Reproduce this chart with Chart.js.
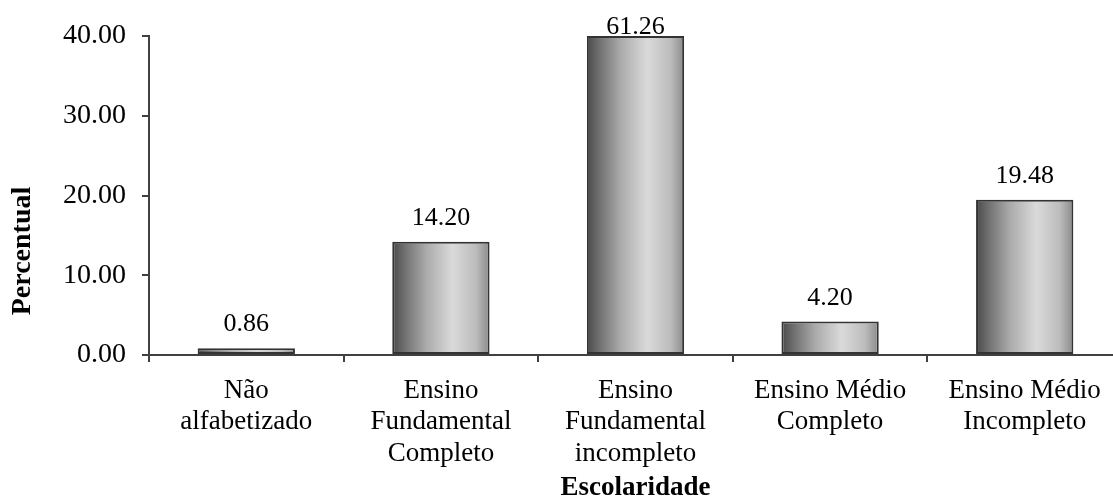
<!DOCTYPE html>
<html lang="pt">
<head>
    <meta charset="UTF-8">
    <title>Escolaridade</title>
    <style>
        html, body {
            margin: 0;
            padding: 0;
            background: #fff;
            overflow: hidden;
        }
        #wrap {
            position: absolute;
            left: 0;
            top: 0;
            width: 1122px;
            height: 503px;
        }
    </style>
    <script src="https://cdn.jsdelivr.net/npm/chart.js"></script>
</head>
<body>
    <div id="wrap"><canvas id="grafico"></canvas></div>

    <script>
        // dados
        const categorias = [
            ['Não', 'alfabetizado'],
            ['Ensino', 'Fundamental', 'Completo'],
            ['Ensino', 'Fundamental', 'incompleto'],
            ['Ensino Médio', 'Completo'],
            ['Ensino Médio', 'Incompleto']
        ];
        const percentual = [0.86, 14.20, 61.26, 4.20, 19.48];
        const yTicks = [0, 10, 20, 30, 40];

        const yMax = yTicks[yTicks.length - 1];
        const fonte = "'Liberation Serif', 'Times New Roman', serif";
        const corEixo = '#404040';

        // barras acima do eixo ficam cortadas no topo, como no Excel
        const barras = percentual.map(v => Math.min(v, yMax));

        function gradiente(ctx) {
            const chart = ctx.chart;
            const x = chart.scales.x;
            if (!x || !chart.chartArea) return '#aaa';
            const c = x.getPixelForValue(ctx.dataIndex);
            const meia = (x.width / categorias.length) * 0.25;
            const g = chart.ctx.createLinearGradient(c - meia, 0, c + meia, 0);
            g.addColorStop(0, '#4a4a4a');
            g.addColorStop(0.12, '#6e6e6e');
            g.addColorStop(0.35, '#ababab');
            g.addColorStop(0.62, '#dadada');
            g.addColorStop(0.86, '#bcbcbc');
            g.addColorStop(1, '#8a8a8a');
            return g;
        }

        const rotulos = {
            id: 'rotulos',
            afterDatasetsDraw(chart) {
                const ctx = chart.ctx;
                const meta = chart.getDatasetMeta(0);
                ctx.save();
                ctx.font = '26px ' + fonte;
                ctx.fillStyle = '#000';
                ctx.textAlign = 'center';
                ctx.textBaseline = 'alphabetic';
                meta.data.forEach((bar, i) => {
                    const y = Math.max(bar.y - 17, chart.chartArea.top - 2);
                    ctx.fillText(percentual[i].toFixed(2), bar.x, y);
                });
                // titulo do eixo y
                ctx.font = 'bold 28px ' + fonte;
                ctx.translate(23, 251);
                ctx.rotate(-Math.PI / 2);
                ctx.textBaseline = 'middle';
                ctx.fillText('Percentual', 0, 0);
                ctx.restore();
            }
        };

        new Chart(document.getElementById('grafico'), {
            type: 'bar',
            data: {
                labels: categorias,
                datasets: [{
                    data: barras,
                    backgroundColor: gradiente,
                    borderColor: '#333',
                    borderWidth: 2,
                    borderSkipped: false,
                    barPercentage: 0.5,
                    categoryPercentage: 1
                }]
            },
            options: {
                responsive: true,
                maintainAspectRatio: false,
                animation: false,
                layout: { padding: { top: 36, left: 0, right: 0, bottom: 0 } },
                plugins: {
                    legend: { display: false },
                    tooltip: { enabled: false }
                },
                scales: {
                    x: {
                        offset: true,
                        grid: {
                            offset: true,
                            drawOnChartArea: false,
                            drawTicks: true,
                            tickLength: 7,
                            color: corEixo,
                            lineWidth: 2
                        },
                        border: { color: corEixo, width: 2 },
                        ticks: {
                            autoSkip: false,
                            maxRotation: 0,
                            padding: 13,
                            color: '#000',
                            font: { family: fonte, size: 27, lineHeight: 1.17 }
                        },
                        title: {
                            display: true,
                            text: 'Escolaridade',
                            color: '#000',
                            font: { family: fonte, size: 27, weight: 'bold', lineHeight: 1.1 },
                            padding: { top: 0, bottom: 0 }
                        },
                        afterFit(s) { s.height = 148; }
                    },
                    y: {
                        min: 0,
                        max: yMax,
                        afterBuildTicks(s) { s.ticks = yTicks.map(v => ({ value: v })); },
                        grid: {
                            drawOnChartArea: false,
                            tickLength: 7,
                            color: corEixo,
                            lineWidth: 2
                        },
                        border: { color: corEixo, width: 2 },
                        ticks: {
                            padding: 16,
                            color: '#000',
                            font: { family: fonte, size: 28 },
                            callback: v => Number(v).toFixed(2)
                        },
                        afterFit(s) { s.width = 149; }
                    }
                }
            },
            plugins: [rotulos]
        });
    </script>
</body>
</html>
